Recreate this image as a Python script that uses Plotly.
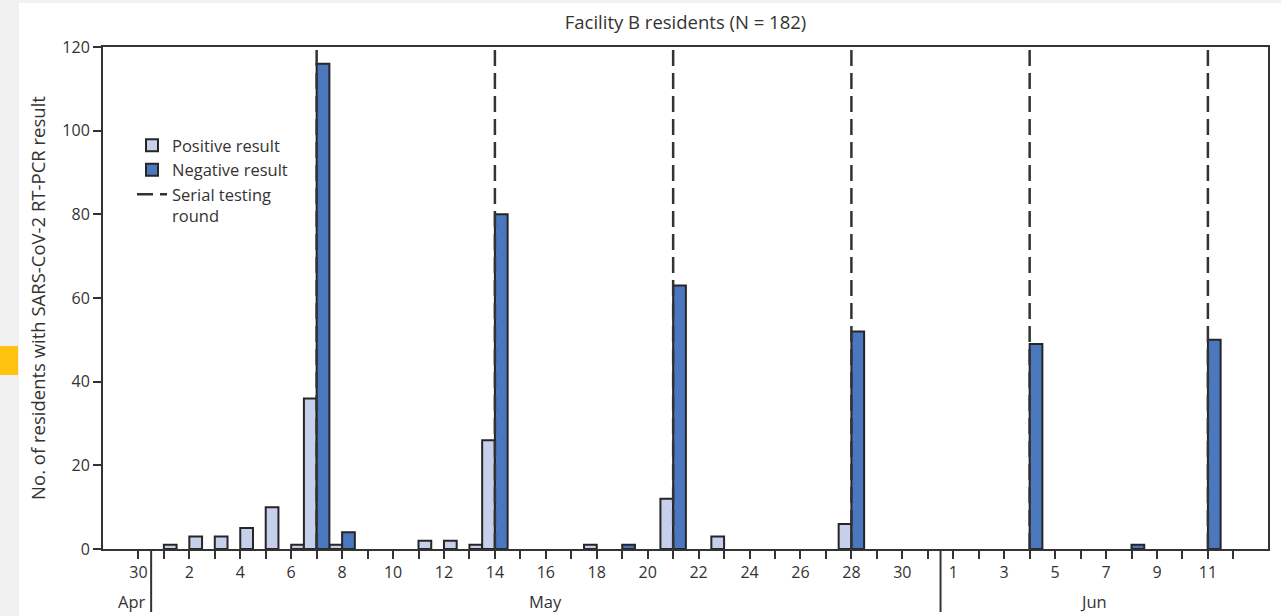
import plotly.graph_objects as go

# ---- data (day index: 0 = Apr 30, 1 = May 1, ..., 32 = Jun 1) ----
pos_days = [1, 2, 3, 4, 5, 6, 7, 8, 11, 12, 13, 14, 18, 21, 23, 28]
pos_values = [1, 3, 3, 5, 10, 1, 36, 1, 2, 2, 1, 26, 1, 12, 3, 6]
# days whose positive bar is drawn just before the day tick (others just after)
pos_before_tick = [7, 8, 14, 18, 21, 23, 28]

neg_days = [7, 8, 14, 19, 21, 28, 35, 39, 42]
neg_values = [116, 4, 80, 1, 63, 52, 49, 1, 50]

testing_round_days = [7, 14, 21, 28, 35, 42]

tick_days = list(range(0, 44))
tick_labels = ["30", "", "2", "", "4", "", "6", "", "8", "", "10", "", "12", "", "14", "",
               "16", "", "18", "", "20", "", "22", "", "24", "", "26", "", "28", "", "30", "",
               "1", "", "3", "", "5", "", "7", "", "9", "", "11", ""]
months = ["Apr", "May", "Jun"]
month_centers = [0.5, 16, 37.5]
month_breaks = [0.5, 31.5]

TXT = "#333333"
FONT = "Open Sans"
W, H = 1281, 616
ML, MR, MT, MB = 103, 13, 47, 67
PW, PH = W - ML - MR, H - MT - MB

pos_offsets = [-0.5 if d in pos_before_tick else 0.0 for d in pos_days]

fig = go.Figure()
fig.add_trace(go.Bar(
    x=pos_days, y=pos_values, name="Positive result",
    width=0.5, offset=pos_offsets,
    marker=dict(color="#c7d0ea", line=dict(color="#262626", width=2)),
))
fig.add_trace(go.Bar(
    x=neg_days, y=neg_values, name="Negative result",
    width=0.5, offset=0.0,
    marker=dict(color="#4a77bd", line=dict(color="#262626", width=2)),
))
lx, ly = [], []
for d in testing_round_days:
    lx += [d, d, None]
    ly += [0, 120, None]
fig.add_trace(go.Scatter(
    x=lx, y=ly, mode="lines", name="Serial testing<br>round",
    line=dict(color="#333333", width=2.5, dash="16px,7px"),
))

shapes = []
# page decorations
def px2x(px):
    return (px - ML) / PW
def py2y(py):
    return (H - MB - py) / PH
shapes.append(dict(type="rect", xref="paper", yref="paper", x0=px2x(0), x1=px2x(19),
                   y0=py2y(616), y1=py2y(0), fillcolor="#f1f1f1", line_width=0, layer="below"))
shapes.append(dict(type="rect", xref="paper", yref="paper", x0=px2x(0), x1=px2x(1281),
                   y0=py2y(3), y1=py2y(0), fillcolor="#f1f1f1", line_width=0, layer="below"))
shapes.append(dict(type="rect", xref="paper", yref="paper", x0=px2x(0), x1=px2x(18),
                   y0=py2y(375), y1=py2y(346), fillcolor="#ffc20e", line_width=0, layer="below"))
for b in month_breaks:
    shapes.append(dict(type="line", xref="x", yref="paper", x0=b, x1=b, y0=0, y1=py2y(612),
                       line=dict(color="#333333", width=2)))

annotations = []
for m, c in zip(months, month_centers):
    annotations.append(dict(text=m, x=c, xref="x", y=py2y(601), yref="paper", showarrow=False,
                            xanchor="right" if m == "Apr" else "center",
                            xshift=-3 if m == "Apr" else 0, yanchor="middle",
                            font=dict(family=FONT, size=16.5, color=TXT)))

fig.update_layout(
    width=W, height=H,
    margin=dict(l=ML, r=MR, t=MT, b=MB),
    paper_bgcolor="white", plot_bgcolor="white",
    barmode="overlay",
    font=dict(family=FONT, size=16, color=TXT),
    title=dict(text="Facility B residents (N = 182)", x=0.5, xref="paper",
               y=1 - 23 / H, yref="container", yanchor="middle",
               font=dict(family=FONT, size=18.5, color=TXT)),
    xaxis=dict(range=[-1.39, 44.36], tickvals=tick_days, ticktext=tick_labels,
               ticks="outside", ticklen=8, tickwidth=2, tickcolor="#333333",
               showline=True, linewidth=2, linecolor="#333333", mirror=True,
               showgrid=False, zeroline=False, tickfont=dict(size=16)),
    yaxis=dict(range=[0, 120], tickvals=[0, 20, 40, 60, 80, 100, 120],
               ticks="outside", ticklen=8, tickwidth=2, tickcolor="#333333",
               showline=True, linewidth=2, linecolor="#333333", mirror=True,
               showgrid=False, zeroline=False, tickfont=dict(size=16),
               title=dict(text="No. of residents with SARS-CoV-2 RT-PCR result",
                          font=dict(size=18.5), standoff=12)),
    legend=dict(x=px2x(132), y=py2y(128), xanchor="left", yanchor="top",
                bgcolor="rgba(0,0,0,0)", font=dict(size=16.5), valign="top",
                tracegroupgap=0),
    shapes=shapes, annotations=annotations,
)
fig.write_html("out.html", config={"displayModeBar": False},
               post_script="document.body.style.margin='0';document.body.style.overflow='hidden';")
